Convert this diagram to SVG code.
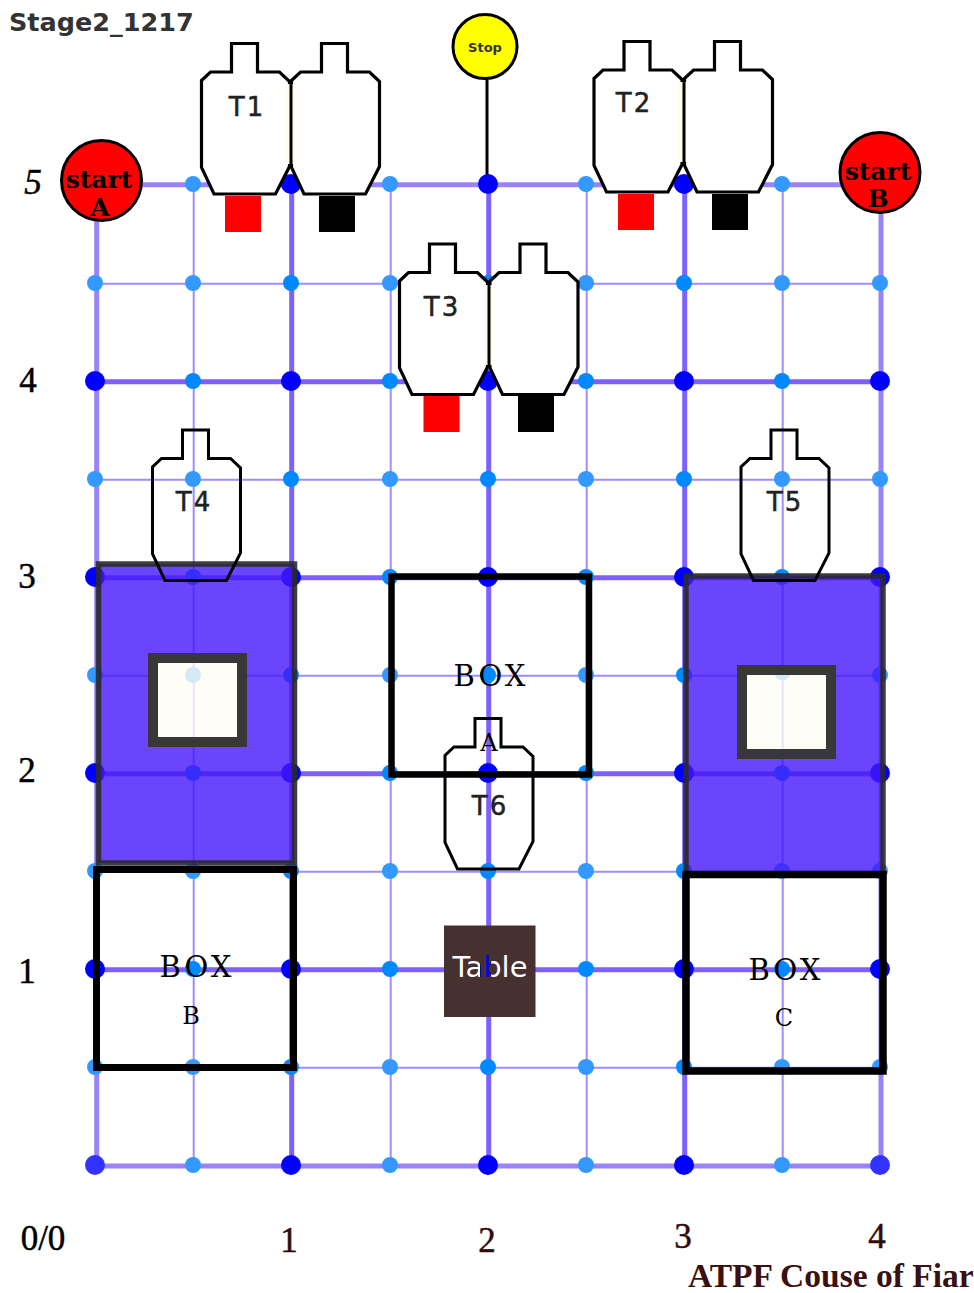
<svg xmlns="http://www.w3.org/2000/svg" width="974" height="1293" viewBox="0 0 974 1293">
<style>
.maj{stroke:#7d61fa;stroke-width:5;fill:none}
.edge{stroke:#9a82fb;stroke-width:5;fill:none}
.min{stroke:#a08cfd;stroke-width:2;fill:none}
.a{fill:#3399ff}.b{fill:#0088ff}.c{fill:#0000ff}.d{fill:#3333ff}
.a,.b{r:8px}.c,.d{r:10px}
.tg{fill:#fff;stroke:#000;stroke-width:3.2}
.op{fill:none;stroke:#000;stroke-width:3}
.sans{font-family:"DejaVu Sans",sans-serif;fill:#222}
.tl{font-size:26px;text-anchor:middle;letter-spacing:2px;stroke:#222;stroke-width:.5px}
.ser{font-family:"DejaVu Serif","Liberation Serif",serif;fill:#000;text-anchor:middle}
.bx{font-size:29px;letter-spacing:3px}
.sub{font-size:24px}
.box{fill:none;stroke:#000}
.blue{fill:#4516fa;fill-opacity:.8;stroke:#2a2a2a;stroke-opacity:.9;stroke-width:5.5}
.win{fill:#fffef6;stroke:#383838;stroke-width:10}
.pale{fill:#e6e4fa}
.paled{fill:#d5e8f5}
.num{font-family:"Liberation Serif",serif;font-size:35px;fill:#000;text-anchor:middle;stroke:#000;stroke-width:.5px}
.numb{font-family:"Liberation Serif",serif;font-size:35px;fill:#2e0c0c;text-anchor:middle;stroke:#2e0c0c;stroke-width:.5px}
.st{font-family:"DejaVu Serif",serif;font-weight:bold;font-size:25px;fill:#000;text-anchor:middle}
</style>
<defs>
<polygon id="shape" points="30,0 56,0 56,28.5 78,28.5 88,38 88,123 74,150.5 12.5,150.5 0,124 0,37 9,28.5 30,28.5"/>
<linearGradient id="tb" gradientUnits="userSpaceOnUse" x1="451" y1="0" x2="528" y2="0">
<stop offset="0.377" stop-color="#fff"/><stop offset="0.377" stop-color="#0000ff"/><stop offset="0.52" stop-color="#0000ff"/><stop offset="0.52" stop-color="#fff"/>
</linearGradient>
</defs>
<rect width="974" height="1293" fill="#fff"/>
<g id="connectors">
<path class="min" d="M193.7 184.7V1165.7M390.7 184.7V1165.7M586.7 184.7V1165.7M782.7 184.7V1165.7M95.7 283.7H880.7M95.7 479.7H880.7M95.7 675.7H880.7M95.7 871.7H880.7M95.7 1067.7H880.7"/>
<path class="maj" d="M291.7 184.7V1165.7M488.7 184.7V1165.7M684.7 184.7V1165.7M95.7 381.7H880.7M95.7 577.7H880.7M95.7 773.7H880.7M95.7 969.7H880.7"/>
<path class="edge" d="M95.7 184.7H880.7M95.7 1166H880.7M96.7 184.7V1165.7M881 184.7V1165.7"/>
<line x1="487" y1="79" x2="487" y2="182" stroke="#000" stroke-width="3"/>
</g>
<g id="grid-dots">
<circle class="d" cx="95" cy="184"/><circle class="a" cx="193" cy="184"/><circle class="c" cx="291" cy="184"/><circle class="a" cx="390" cy="184"/><circle class="c" cx="488" cy="184"/><circle class="a" cx="586" cy="184"/><circle class="c" cx="684" cy="184"/><circle class="a" cx="782" cy="184"/><circle class="d" cx="880" cy="184"/>
<circle class="a" cx="95" cy="283"/><circle class="a" cx="193" cy="283"/><circle class="b" cx="291" cy="283"/><circle class="a" cx="390" cy="283"/><circle class="b" cx="488" cy="283"/><circle class="a" cx="586" cy="283"/><circle class="b" cx="684" cy="283"/><circle class="a" cx="782" cy="283"/><circle class="a" cx="880" cy="283"/>
<circle class="c" cx="95" cy="381"/><circle class="b" cx="193" cy="381"/><circle class="c" cx="291" cy="381"/><circle class="b" cx="390" cy="381"/><circle class="c" cx="488" cy="381"/><circle class="b" cx="586" cy="381"/><circle class="c" cx="684" cy="381"/><circle class="b" cx="782" cy="381"/><circle class="c" cx="880" cy="381"/>
<circle class="a" cx="95" cy="479"/><circle class="a" cx="193" cy="479"/><circle class="b" cx="291" cy="479"/><circle class="a" cx="390" cy="479"/><circle class="b" cx="488" cy="479"/><circle class="a" cx="586" cy="479"/><circle class="b" cx="684" cy="479"/><circle class="a" cx="782" cy="479"/><circle class="a" cx="880" cy="479"/>
<circle class="c" cx="95" cy="577"/><circle class="b" cx="193" cy="577"/><circle class="c" cx="291" cy="577"/><circle class="b" cx="390" cy="577"/><circle class="c" cx="488" cy="577"/><circle class="b" cx="586" cy="577"/><circle class="c" cx="684" cy="577"/><circle class="b" cx="782" cy="577"/><circle class="c" cx="880" cy="577"/>
<circle class="a" cx="95" cy="675"/><circle class="a" cx="193" cy="675"/><circle class="b" cx="291" cy="675"/><circle class="a" cx="390" cy="675"/><circle class="b" cx="488" cy="675"/><circle class="a" cx="586" cy="675"/><circle class="b" cx="684" cy="675"/><circle class="a" cx="782" cy="675"/><circle class="a" cx="880" cy="675"/>
<circle class="c" cx="95" cy="773"/><circle class="b" cx="193" cy="773"/><circle class="c" cx="291" cy="773"/><circle class="b" cx="390" cy="773"/><circle class="c" cx="488" cy="773"/><circle class="b" cx="586" cy="773"/><circle class="c" cx="684" cy="773"/><circle class="b" cx="782" cy="773"/><circle class="c" cx="880" cy="773"/>
<circle class="a" cx="95" cy="871"/><circle class="a" cx="193" cy="871"/><circle class="b" cx="291" cy="871"/><circle class="a" cx="390" cy="871"/><circle class="b" cx="488" cy="871"/><circle class="a" cx="586" cy="871"/><circle class="b" cx="684" cy="871"/><circle class="a" cx="782" cy="871"/><circle class="a" cx="880" cy="871"/>
<circle class="c" cx="95" cy="969"/><circle class="b" cx="193" cy="969"/><circle class="c" cx="291" cy="969"/><circle class="b" cx="390" cy="969"/><circle class="c" cx="488" cy="969"/><circle class="b" cx="586" cy="969"/><circle class="c" cx="684" cy="969"/><circle class="b" cx="782" cy="969"/><circle class="c" cx="880" cy="969"/>
<circle class="a" cx="95" cy="1067"/><circle class="a" cx="193" cy="1067"/><circle class="b" cx="291" cy="1067"/><circle class="a" cx="390" cy="1067"/><circle class="b" cx="488" cy="1067"/><circle class="a" cx="586" cy="1067"/><circle class="b" cx="684" cy="1067"/><circle class="a" cx="782" cy="1067"/><circle class="a" cx="880" cy="1067"/>
<circle class="d" cx="95" cy="1165"/><circle class="a" cx="193" cy="1165"/><circle class="c" cx="291" cy="1165"/><circle class="a" cx="390" cy="1165"/><circle class="c" cx="488" cy="1165"/><circle class="a" cx="586" cy="1165"/><circle class="c" cx="684" cy="1165"/><circle class="a" cx="782" cy="1165"/><circle class="d" cx="880" cy="1165"/>
</g>
<g id="area-left"><rect class="blue" x="98.5" y="564" width="196" height="299"/><rect x="153" y="658" width="89" height="84" class="win"/><rect class="pale" x="192.7" y="663" width="2" height="74"/><circle class="paled" cx="193" cy="675" r="8"/></g>
<g id="area-right"><rect class="blue" x="686" y="576" width="197" height="298"/><rect x="742" y="670" width="89" height="84" class="win"/><rect class="pale" x="781.7" y="675" width="2" height="74"/><path class="paled" d="M775 675H790A8 8 0 0 1 775 675Z"/></g>
<g id="box-a"><rect class="box" x="391.5" y="576.5" width="197.5" height="198" stroke-width="6.5"/><text class="ser bx" x="491" y="686">BOX</text><text class="ser sub" x="489" y="751">A</text></g>
<g id="box-b"><rect class="box" x="96.5" y="869.5" width="197" height="198" stroke-width="7"/><text class="ser bx" x="197" y="977">BOX</text><text class="ser sub" x="191" y="1024">B</text></g>
<g id="box-c"><rect class="box" x="686" y="874.5" width="197" height="196.5" stroke-width="7.5"/><text class="ser bx" x="786" y="980">BOX</text><text class="ser sub" x="784" y="1026">C</text></g>
<g id="t1"><use href="#shape" class="tg" x="201.5" y="43.5"/><use href="#shape" class="tg" x="291.5" y="43.5"/><rect x="286" y="84" width="9" height="80" fill="#fffdea"/><line x1="291" y1="82" x2="291" y2="167" stroke="#000" stroke-width="3"/><text class="sans tl" x="247" y="116">T1</text><rect x="225" y="196" width="36" height="36" fill="#f00"/><rect x="319" y="196" width="36" height="36" fill="#000"/></g>
<g id="t2"><use href="#shape" class="tg" x="594" y="41.5"/><use href="#shape" class="tg" x="684.5" y="41.5"/><rect x="678" y="82" width="9" height="80" fill="#fffdea"/><line x1="684" y1="80" x2="684" y2="165" stroke="#000" stroke-width="3"/><text class="sans tl" x="634" y="112">T2</text><rect x="618" y="194" width="36" height="36" fill="#f00"/><rect x="712" y="194" width="36" height="36" fill="#000"/></g>
<g id="t3"><use href="#shape" class="tg" x="399.5" y="244"/><use href="#shape" class="tg" x="490" y="244"/><rect x="485" y="285" width="8" height="80" fill="#fffdea"/><line x1="489" y1="282" x2="489" y2="367" stroke="#000" stroke-width="3"/><text class="sans tl" x="442" y="316">T3</text><rect x="423.5" y="396" width="36" height="36" fill="#f00"/><rect x="518" y="396" width="36" height="36" fill="#000"/></g>
<g id="t4"><use href="#shape" class="op" x="152.5" y="430"/><text class="sans tl" x="194" y="511">T4</text></g>
<g id="t5"><use href="#shape" class="op" x="741" y="430"/><text class="sans tl" x="785" y="511">T5</text></g>
<g id="t6"><use href="#shape" class="op" x="445" y="718.5"/><text class="sans tl" x="490" y="815">T6</text></g>
<g id="table"><rect x="444" y="925.5" width="91.5" height="91.5" fill="#463030"/><text x="490" y="977" font-family="DejaVu Sans,sans-serif" font-size="29" text-anchor="middle" fill="url(#tb)">Table</text></g>
<g id="start-a"><circle cx="101.5" cy="180.5" r="40" fill="#f00" stroke="#000" stroke-width="3"/><text class="st" x="99" y="188">start</text><text class="st" x="100" y="216">A</text></g>
<g id="start-b"><circle cx="880" cy="172.5" r="40" fill="#f00" stroke="#000" stroke-width="3"/><text class="st" x="878" y="180">start</text><text class="st" x="878" y="207">B</text></g>
<g id="stop"><circle cx="485" cy="46.5" r="32" fill="#ff0" stroke="#000" stroke-width="3"/><text x="485" y="52" font-family="DejaVu Sans,sans-serif" font-weight="bold" font-size="13" text-anchor="middle" fill="#333">Stop</text></g>
<g id="labels">
<text x="9" y="31" font-family="DejaVu Sans,sans-serif" font-size="25.5" font-weight="bold" fill="#333">Stage2_1217</text>
<text class="num" x="33" y="194" font-style="italic">5</text>
<text class="num" x="28" y="392">4</text>
<text class="num" x="27" y="588">3</text>
<text class="num" x="27" y="782">2</text>
<text class="num" x="27" y="983">1</text>
<text class="num" x="43" y="1250">0/0</text>
<text class="numb" x="289" y="1252">1</text>
<text class="numb" x="487" y="1252">2</text>
<text class="numb" x="683" y="1248">3</text>
<text class="numb" x="877" y="1248">4</text>
<text x="688" y="1287" font-family="Liberation Serif,serif" font-weight="bold" font-size="33.5" fill="#3a1010">ATPF Couse of Fiar</text>
</g>
</svg>
